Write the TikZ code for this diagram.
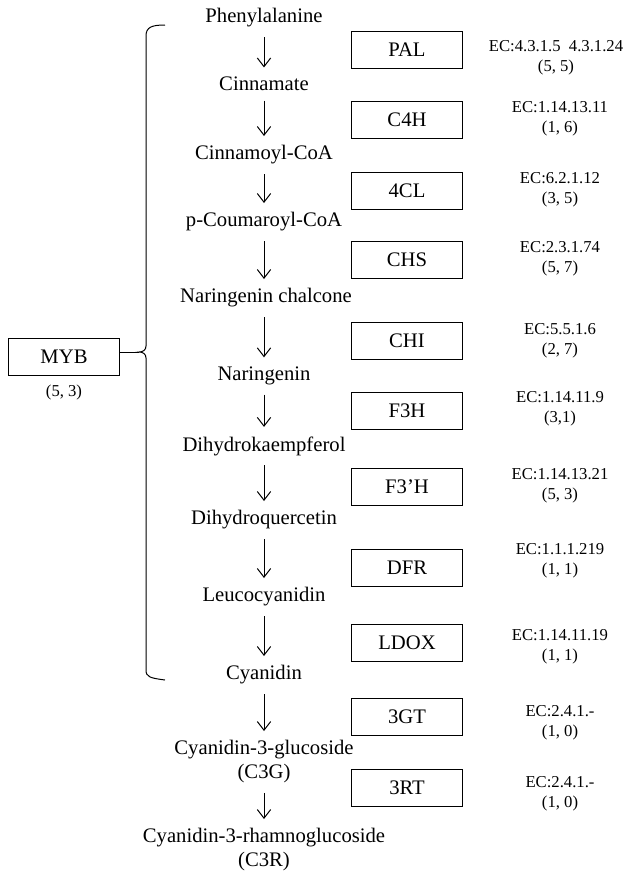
\documentclass[tikz,border=0pt]{standalone}
\usepackage{fontspec}
\setmainfont{Liberation Serif}
\usetikzlibrary{arrows.meta}
\tikzset{
	enzyme/.style={draw, line width=0.75pt, minimum width=83pt, minimum height=28pt, inner sep=0pt, font=\fontsize{15.5}{18}\selectfont},
	cpd/.style={inner sep=0pt, align=center, font=\fontsize{15.5}{18}\selectfont},
	ecno/.style={inner sep=0pt, align=center, font=\fontsize{12.5}{15}\selectfont},
	step arrow/.style={-{Straight Barb[length=6.5pt, width=10pt, line width=0.75pt]}, line width=0.75pt, shorten >=7pt, shorten <=7pt}
}
\begin{document}
\begin{tikzpicture}[x=0.75pt,y=0.75pt,yscale=-1,xscale=1]
	\useasboundingbox (0,0) rectangle (633,872);

	% Compounds
	\node[cpd] (phe) at (264,18) {Phenylalanine};
	\node[cpd] (cin) at (264,84) {Cinnamate};
	\node[cpd] (cinco) at (264,155) {Cinnamoyl-CoA};
	\node[cpd] (pcou) at (264,222) {p-Coumaroyl-CoA};
	\node[cpd] (narch) at (266,298) {Naringenin chalcone};
	\node[cpd] (nar) at (264,376) {Naringenin};
	\node[cpd] (dhk) at (264,446) {Dihydrokaempferol};
	\node[cpd] (dhq) at (264,520) {Dihydroquercetin};
	\node[cpd] (leu) at (264,597) {Leucocyanidin};
	\node[cpd] (cya) at (264,675) {Cyanidin};
	\node[cpd] (c3g) at (264,762) {Cyanidin-3-glucoside\\(C3G)};
	\node[cpd] (c3r) at (264,850) {Cyanidin-3-rhamnoglucoside\\(C3R)};

	% Steps
	\foreach \a/\b in {phe/cin, cin/cinco, cinco/pcou, pcou/narch, narch/nar, nar/dhk, dhk/dhq, dhq/leu, leu/cya, cya/c3g, c3g/c3r}
		\draw[step arrow] (phe.south |- \a.south) -- (phe.south |- \b.north);

	% Enzymes
	\node[enzyme] (pal) at (407,50) {PAL};
	\node[enzyme] (c4h) at (407,120) {C4H};
	\node[enzyme] (fcl) at (407,191) {4CL};
	\node[enzyme] (chs) at (407,260) {CHS};
	\node[enzyme] (chi) at (407,341) {CHI};
	\node[enzyme] (fh) at (407,411) {F3H};
	\node[enzyme] (fph) at (407,487) {F3’H};
	\node[enzyme] (dfr) at (407,568) {DFR};
	\node[enzyme] (ldox) at (407,643) {LDOX};
	\node[enzyme] (gt) at (407,717) {3GT};
	\node[enzyme] (rt) at (407,788) {3RT};

	% EC numbers
	\node[ecno] (ecpal) at (556,58) {EC:4.3.1.5\ \ 4.3.1.24\\(5, 5)};
	\node[ecno] (ecc4h) at (560,119) {EC:1.14.13.11\\(1, 6)};
	\node[ecno] (ecfcl) at (560,190) {EC:6.2.1.12\\(3, 5)};
	\node[ecno] (ecchs) at (560,259) {EC:2.3.1.74\\(5, 7)};
	\node[ecno] (ecchi) at (560,341) {EC:5.5.1.6\\(2, 7)};
	\node[ecno] (ecfh) at (560,409) {EC:1.14.11.9\\(3,1)};
	\node[ecno] (ecfph) at (560,486) {EC:1.14.13.21\\(5, 3)};
	\node[ecno] (ecdfr) at (560,561) {EC:1.1.1.219\\(1, 1)};
	\node[ecno] (ecldox) at (560,647) {EC:1.14.11.19\\(1, 1)};
	\node[ecno] (ecgt) at (560,723) {EC:2.4.1.-\\(1, 0)};
	\node[ecno] (ecrt) at (560,794) {EC:2.4.1.-\\(1, 0)};

	% Regulator
	\node[enzyme] (myb) at (64,357) {MYB};
	\node[ecno] (ecmyb) at (64,392) {(5, 3)};
	\coordinate (tip) at (139,352);
	\draw[line width=0.75pt] (165,25) .. controls (152,25) and (146,27) .. (146,36) -- (146,346) .. controls (146,350) and (143,352) .. (tip) .. controls (143,352) and (146,354) .. (146,358) -- (146,670) .. controls (146,677) and (150,678) .. (165,680);
	\draw[line width=0.75pt] (myb.east |- tip) -- (tip);
\end{tikzpicture}
\end{document}
